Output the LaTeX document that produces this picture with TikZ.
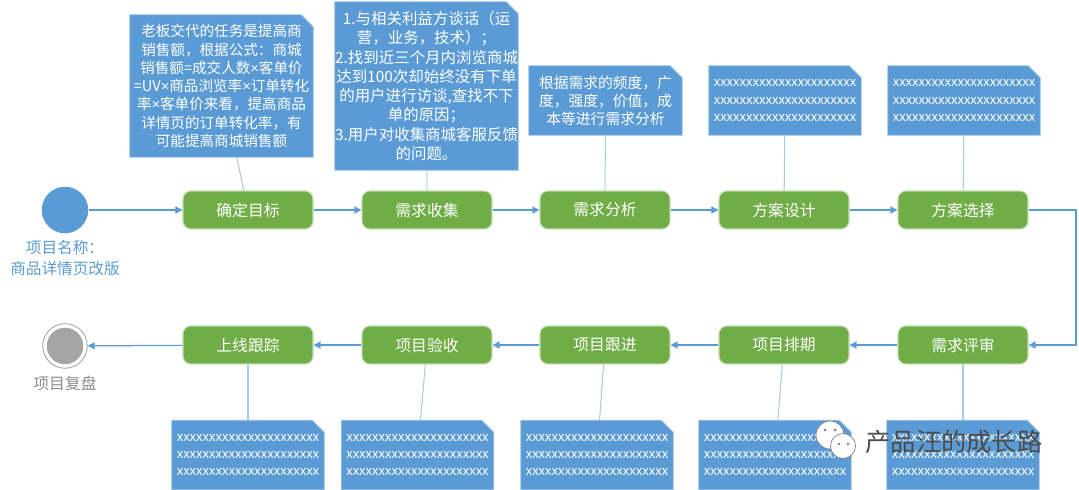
\documentclass[tikz,border=0pt]{standalone}
\usepackage{fontspec}
\setmainfont{Noto Sans CJK SC}
\newfontfamily\latinfont{Liberation Sans}
\usetikzlibrary{arrows.meta,backgrounds}
\definecolor{bleu}{HTML}{5B9BD5}
\definecolor{bleuclair}{HTML}{A9CBEA}
\definecolor{vert}{HTML}{70AD47}
\definecolor{gris}{HTML}{A5A5A5}
\tikzset{
  etape/.style={rectangle, rounded corners=0.16cm, fill=vert, draw=vert!45!white, line width=0.6pt,
    text=white, minimum width=2.6cm, minimum height=0.76cm, inner sep=0pt, font=\fontsize{9}{10}\selectfont},
  note/.style={text=white, align=center, inner sep=0pt, minimum width=3.04cm, minimum height=1.38cm},
  xnote/.style={note, font=\fontsize{7.4}{9.9}\selectfont},
  fleche/.style={draw=bleu, line width=0.7pt, -{Triangle[length=4pt,width=4pt]}},
  lien/.style={draw=bleuclair, line width=0.6pt},
}
\newcommand{\lignex}{xxxxxxxxxxxxxxxxxxxxxx}
\newcommand{\fois}{{\latinfont ×}}
\begin{document}
\begin{tikzpicture}[x=0.02cm, y=-0.02cm]
\useasboundingbox (0,0) rectangle (1079,490);
% debut et fin
\node[circle, fill=bleu, minimum size=0.93cm, inner sep=0pt] (debut) at (65,210) {};
\node[text=bleu, align=center, font=\fontsize{8.9}{11.9}\selectfont] (nomprojet) at (65,258) {项目名称：\\商品详情页改版};
\node[circle, draw=gris, line width=0.5pt, minimum size=0.89cm, inner sep=0pt,
  path picture={\fill[gris] (path picture bounding box.center) circle (0.365cm);}] (fin) at (65,346) {};
\node[text=gris!85!black, font=\fontsize{9}{10}\selectfont] (bilan) at (65,383) {项目复盘};
% ligne du haut
\node[etape] (objectif) at (248,210) {确定目标};
\node[etape] (collecte) at (427,210) {需求收集};
\node[etape] (analyse) at (605,210) {需求分析};
\node[etape] (conception) at (784,210) {方案设计};
\node[etape] (choix) at (963,210) {方案选择};
% ligne du bas
\node[etape] (revue) at (963,345) {需求评审};
\node[etape] (planning) at (784,345) {项目排期};
\node[etape] (suivi) at (605,345) {项目跟进};
\node[etape] (recette) at (427,345) {项目验收};
\node[etape] (lancement) at (248,345) {上线跟踪};
% notes
\node[note, minimum width=3.66cm, minimum height=2.84cm, font=\fontsize{8.3}{10.4}\selectfont] (noteA) at (221.5,86)
  {老板交代的任务是提高商\\销售额，根据公式：商城\\销售额=成交人数\fois 客单价\\=UV\fois 商品浏览率\fois 订单转化\\率\fois 客单价来看，提高商品\\详情页的订单转化率，有\\可能提高商城销售额};
\node[note, minimum width=3.66cm, minimum height=3.36cm, font=\fontsize{8.8}{11}\selectfont] (noteB) at (426.5,86)
  {1.与相关利益方谈话（运\\营，业务，技术）；\\2.找到近三个月内浏览商城\\达到100次却始终没有下单\\的用户进行访谈,查找不下\\单的原因；\\3.用户对收集商城客服反馈\\的问题。};
\node[note, minimum width=3.06cm, font=\fontsize{8.4}{10.2}\selectfont] (noteC) at (605.5,100.5)
  {根据需求的频度，广\\度，强度，价值，成\\本等进行需求分析};
\node[xnote] (noteD) at (785,100.5) {\lignex\\\lignex\\\lignex};
\node[xnote] (noteE) at (964,100.5) {\lignex\\\lignex\\\lignex};
\node[xnote] (noteF) at (963,455) {\lignex\\\lignex\\\lignex};
\node[xnote] (noteG) at (775,455) {\lignex\\\lignex\\\lignex};
\node[xnote] (noteH) at (597,455) {\lignex\\\lignex\\\lignex};
\node[xnote] (noteI) at (417.5,455) {\lignex\\\lignex\\\lignex};
\node[xnote] (noteJ) at (248,455) {\lignex\\\lignex\\\lignex};
\begin{pgfonlayer}{background}
\foreach \n in {noteA,noteB,noteC,noteD,noteE,noteF,noteG,noteH,noteI,noteJ} {
  \filldraw[fill=bleu, draw=bleuclair, line width=0.4pt] (\n.north west) -- ([xshift=-0.24cm]\n.north east)
    -- ([yshift=-0.24cm]\n.north east) -- (\n.south east) -- (\n.south west) -- cycle;
  \draw[bleuclair, line width=0.4pt] ([xshift=-0.24cm]\n.north east) -- ([yshift=-0.24cm]\n.north east);
}
\end{pgfonlayer}
% fleches
\draw[fleche] (debut) -- (objectif);
\draw[fleche] (objectif) -- (collecte);
\draw[fleche] (collecte) -- (analyse);
\draw[fleche] (analyse) -- (conception);
\draw[fleche] (conception) -- (choix);
\coordinate (coin) at (1076,210);
\draw[fleche] (choix) -- (coin) |- (revue);
\draw[fleche] (revue) -- (planning);
\draw[fleche] (planning) -- (suivi);
\draw[fleche] (suivi) -- (recette);
\draw[fleche] (recette) -- (lancement);
\draw[fleche] (lancement) -- (fin);
% liens des notes
\draw[lien] (noteA) -- (objectif);
\draw[lien] (noteB) -- (collecte);
\draw[lien] (noteC) -- (analyse);
\draw[lien] (noteD) -- (conception);
\draw[lien] (noteE) -- (choix);
\draw[lien] (noteF) -- (revue);
\draw[lien] (noteG) -- (planning);
\draw[lien] (noteH) -- (suivi);
\draw[lien] (noteI) -- (recette);
\draw[lien] (noteJ) -- (lancement);
% filigrane
\filldraw[fill=white, draw=gray, line width=0.4pt] (830,435) circle (14);
\filldraw[fill=white, draw=gray, line width=0.4pt] (843,446) circle (12.5);
\fill[gray] (825,430) circle (1.5) (835,430) circle (1.5) (839,444) circle (1.3) (848,444) circle (1.3);
\node[text=black!70, font=\fontsize{14.4}{16}\selectfont] (filigrane) at (954,442) {产品汪的成长路};
\end{tikzpicture}
\end{document}
